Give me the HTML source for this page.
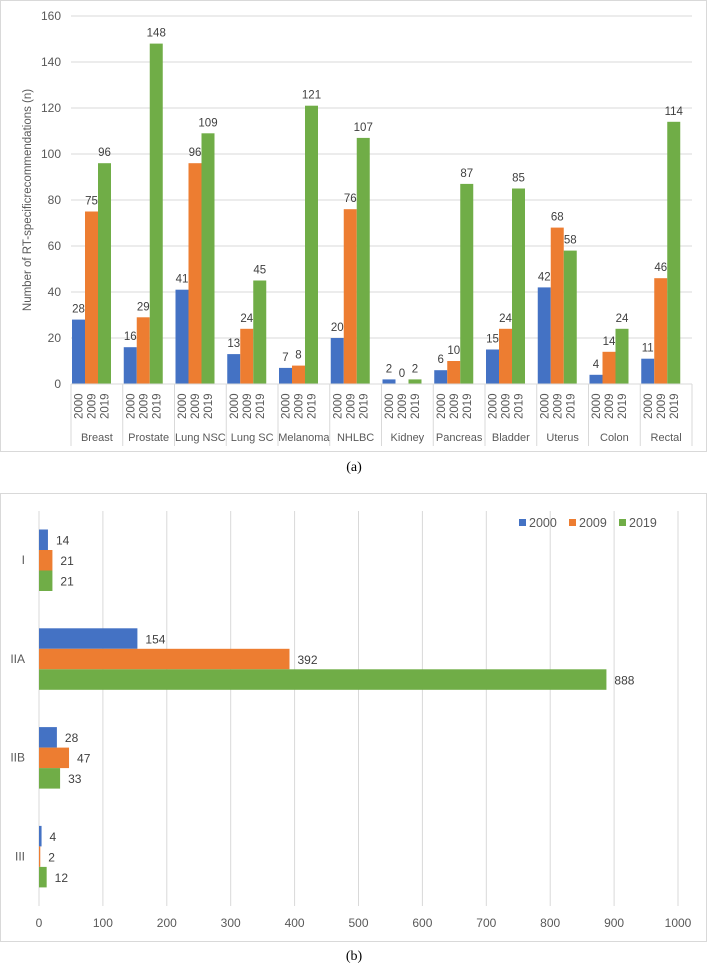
<!DOCTYPE html>
<html><head><meta charset="utf-8"><style>
body{margin:0;background:#fff;width:708px;height:969px;overflow:hidden}
svg{font-family:"Liberation Sans",sans-serif}
</style></head><body>
<svg id="s" width="708" height="969" xmlns="http://www.w3.org/2000/svg">
<rect x="0.5" y="0.5" width="706" height="451" fill="#fff" stroke="#d9d9d9"/>
<rect x="0.5" y="493.5" width="706" height="448" fill="#fff" stroke="#d9d9d9"/>
<text x="354" y="471" text-anchor="middle" font-family="Liberation Serif" font-size="14" fill="#000">(a)</text>
<text x="354" y="960" text-anchor="middle" font-family="Liberation Serif" font-size="14" fill="#000">(b)</text>
<text transform="translate(31,200) rotate(-90)" text-anchor="middle" font-size="11.5" fill="#595959">Number of RT-specificrecommendations (n)</text>
<g id="ga"></g><g id="gb"></g>
</svg>
<script>
const categoriesA=["Breast","Prostate","Lung NSC","Lung SC","Melanoma","NHLBC","Kidney","Pancreas","Bladder","Uterus","Colon","Rectal"];
const years=["2000","2009","2019"];
const values2000=[28,16,41,13,7,20,2,6,15,42,4,11];
const values2009=[75,29,96,24,8,76,0,10,24,68,14,46];
const values2019=[96,148,109,45,121,107,2,87,85,58,24,114];
const yTicksA=[0,20,40,60,80,100,120,140,160];
const categoriesB=["I","IIA","IIB","III"];
const b2000=[14,154,28,4];
const b2009=[21,392,47,2];
const b2019=[21,888,33,12];
const xTicksB=[0,100,200,300,400,500,600,700,800,900,1000];
const colors=["#4472C4","#ED7D31","#70AD47"];
const NS="http://www.w3.org/2000/svg";
function mk(p,t,a,txt){const e=document.createElementNS(NS,t);for(const k in a)e.setAttribute(k,a[k]);if(txt!==undefined)e.textContent=txt;p.appendChild(e);return e;}
// Panel A
const ga=document.getElementById('ga');
const x0=71,x1=692,cw=(x1-x0)/categoriesA.length;
const yA=v=>384-v*(368/160);
yTicksA.forEach(t=>{
 const l=mk(ga,'line',{x1:x0,x2:x1,y1:yA(t),y2:yA(t),stroke:'#d9d9d9'});
 
 
 const tx=mk(ga,'text',{x:61,y:yA(t)+4,'text-anchor':'end','font-size':12,fill:'#595959'},t);
 
 
});
const seriesA=[values2000,values2009,values2019];
for(let i=0;i<=categoriesA.length;i++){
 const s=mk(ga,'line',{x1:x0+i*cw,x2:x0+i*cw,y1:384,y2:446,stroke:'#d9d9d9'});
 
 
}
categoriesA.forEach((c,i)=>{
 const cx=x0+i*cw;
 seriesA.forEach((arr,j)=>{
  const v=arr[i],bx=cx+1+j*13;
  const r=mk(ga,'rect',{x:bx,y:yA(v),width:13,height:384-yA(v),fill:colors[j]});
  
  
  const lb=mk(ga,'text',{x:bx+6.5,y:yA(v)-7,'text-anchor':'middle','font-size':11.5,fill:'#404040'},v);
  
  
  const yl=mk(ga,'text',{transform:`translate(${bx+10.5},419) rotate(-90)`,'font-size':11.5,fill:'#595959'},years[j]);
  
  
 });
 const cl=mk(ga,'text',{x:cx+cw/2,y:441,'text-anchor':'middle','font-size':11,fill:'#595959'},c);
 
 
});
mk(ga,'line',{x1:x0,x2:x1,y1:384,y2:384,stroke:'#d9d9d9'});
// Panel B
const gb=document.getElementById('gb');
const xB=v=>39+v*0.639;
xTicksB.forEach(t=>{
 const l=mk(gb,'line',{x1:xB(t),x2:xB(t),y1:511,y2:906,stroke:'#d9d9d9'});
 
 
 const tx=mk(gb,'text',{x:xB(t),y:927,'text-anchor':'middle','font-size':12,fill:'#595959'},t);
 
 
});
const seriesB=[b2000,b2009,b2019];
categoriesB.forEach((c,i)=>{
 const cy=560+i*98.8;
 const cl=mk(gb,'text',{x:25,y:cy+4,'text-anchor':'end','font-size':12,fill:'#595959'},c);
 
 
 seriesB.forEach((arr,j)=>{
  const v=arr[i],by=cy-30.5+j*20.5;
  const r=mk(gb,'rect',{x:xB(0),y:by,width:xB(v)-xB(0),height:20.5,fill:colors[j]});
  
  
  const lb=mk(gb,'text',{x:xB(v)+8,y:by+15,'font-size':12,fill:'#404040'},v);
  
  
 });
});
years.forEach((y,j)=>{
 const lx=519+j*50;
 const sq=mk(gb,'rect',{x:lx,y:519,width:7,height:7,fill:colors[j]});
 
 
 const t=mk(gb,'text',{x:lx+10,y:527,'font-size':12.5,fill:'#595959'},y);
 
 
});
</script>
</body></html>
